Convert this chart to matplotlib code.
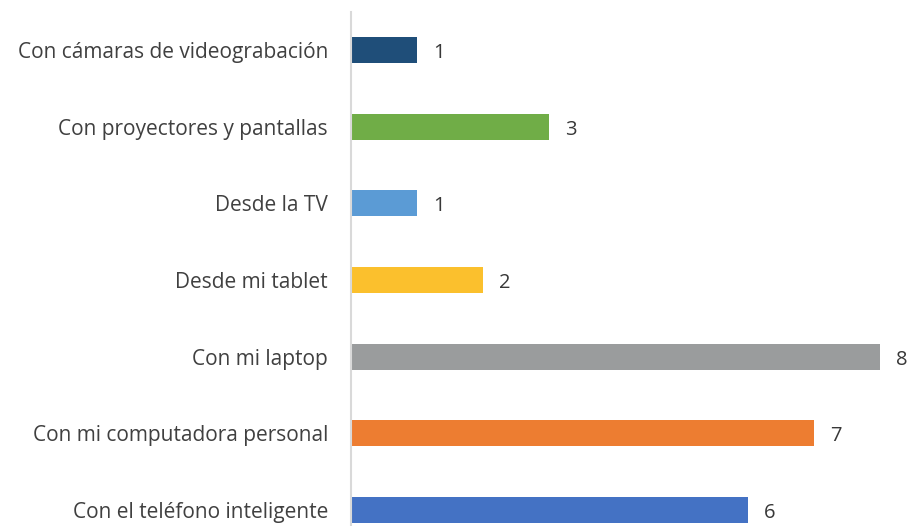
import matplotlib
matplotlib.use("Agg")
import matplotlib.pyplot as plt

categories = ["Con el teléfono inteligente", "Con mi computadora personal", "Con mi laptop",
              "Desde mi tablet", "Desde la TV", "Con proyectores y pantallas",
              "Con cámaras de videograbación"]
values = [6, 7, 8, 2, 1, 3, 1]
colors = ["#4472C4", "#ED7D31", "#9A9C9D", "#FBC02D", "#5B9BD5", "#70AD47", "#1F4E79"]

W, H = 911, 526
fig = plt.figure(figsize=(W/100, H/100), dpi=100)
left_px, top_px = 351, 12
ax = fig.add_axes([left_px/W, 0, (W-left_px)/W, (H-top_px)/H])

px_per_unit = 66.1
spacing = 76.67
ax.set_xlim(0, (W-left_px)/px_per_unit)
ax.set_ylim(-(526-510)/spacing, 6 + (50-12)/spacing)

y = list(range(len(categories)))
ax.barh(y, values, height=26/spacing, color=colors)

for yi, v in zip(y, values):
    ax.text(v + 16/px_per_unit, yi - 3/spacing, str(v), va="center", ha="left",
            fontsize=14.5, color="#383838", family="Open Sans")

ax.set_yticks(y)
ax.set_yticklabels(categories, fontsize=15, color="#404040", family="Open Sans")
ax.tick_params(axis="y", length=0, pad=16.5)
ax.set_xticks([])
for s in ["top", "right", "bottom"]:
    ax.spines[s].set_visible(False)
ax.spines["left"].set_color("#D9D9D9")
ax.spines["left"].set_linewidth(1.5)

fig.savefig("out.png", dpi=100)
